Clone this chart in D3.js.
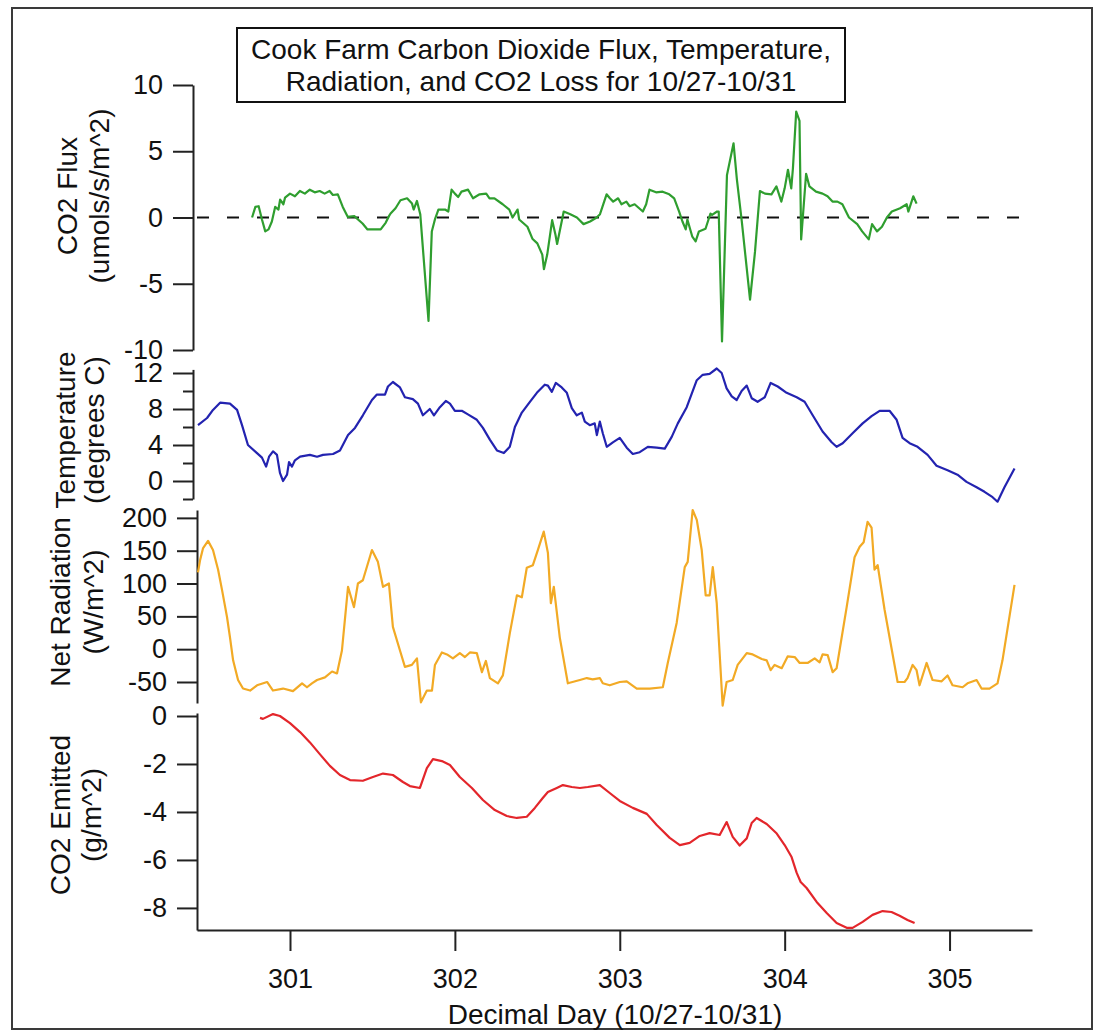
<!DOCTYPE html>
<html>
<head>
<meta charset="utf-8">
<script src="https://cdn.jsdelivr.net/npm/d3@7"></script>
<style>
  body { margin: 0; background: #fff; }
  text { font-family: "Liberation Sans", Arial, sans-serif; fill: #111; }
</style>
</head>
<body>
<div id="container"></div>
<script>
// ---- data (day, value) ----
const fluxData = [
  [300.77, 0.0], [300.79, 0.8], [300.81, 0.85], [300.83, -0.15], [300.85, -1.05], [300.87, -0.9],
  [300.89, -0.3], [300.91, 0.8], [300.93, 0.6], [300.94, 1.35], [300.96, 1.0], [300.97, 1.5],
  [301.0, 1.8], [301.03, 1.6], [301.06, 2.0], [301.09, 1.8], [301.12, 2.1], [301.15, 1.9],
  [301.18, 2.0], [301.21, 1.8], [301.24, 2.0], [301.26, 1.7], [301.29, 1.75], [301.32, 0.8],
  [301.35, 0.05], [301.39, 0.1], [301.44, -0.45], [301.47, -0.9], [301.5, -0.9], [301.55, -0.9],
  [301.58, -0.4], [301.6, 0.1], [301.61, 0.3], [301.64, 0.7], [301.67, 1.3], [301.71, 1.45],
  [301.74, 1.05], [301.75, 0.6], [301.77, 1.25], [301.79, 0.25], [301.84, -7.8], [301.86, -1.05],
  [301.88, -0.1], [301.9, 0.6], [301.94, 0.6], [301.96, 0.45], [301.98, 2.1], [302.0, 1.8],
  [302.02, 1.55], [302.04, 1.95], [302.08, 2.1], [302.11, 1.45], [302.15, 1.75], [302.19, 1.8],
  [302.21, 1.45], [302.24, 1.45], [302.29, 1.0], [302.33, 0.6], [302.35, 0.0], [302.38, 0.6],
  [302.39, -0.15], [302.44, -0.7], [302.47, -1.6], [302.5, -1.95], [302.53, -2.8], [302.54, -3.9],
  [302.56, -2.8], [302.59, -0.2], [302.61, -1.3], [302.62, -2.0], [302.66, 0.45], [302.7, 0.25],
  [302.74, 0.0], [302.78, -0.5], [302.82, -0.3], [302.86, 0.0], [302.88, 0.25], [302.92, 1.75],
  [302.94, 1.45], [302.96, 1.2], [302.99, 1.45], [303.01, 1.0], [303.04, 1.2], [303.06, 0.85],
  [303.09, 1.0], [303.14, 0.45], [303.16, 1.0], [303.18, 2.1], [303.22, 1.9], [303.26, 1.95],
  [303.3, 1.75], [303.33, 1.45], [303.36, 0.45], [303.38, -0.3], [303.4, -0.9], [303.41, -0.15],
  [303.44, -1.45], [303.46, -1.8], [303.48, -1.05], [303.52, -0.85], [303.55, 0.3], [303.56, 0.2],
  [303.59, 0.45], [303.6, 0.45], [303.62, -9.35], [303.65, 3.2], [303.69, 5.6], [303.71, 2.9],
  [303.74, -0.3], [303.79, -6.2], [303.82, -2.6], [303.85, 2.0], [303.88, 1.8], [303.92, 1.75],
  [303.95, 2.35], [303.98, 1.2], [304.0, 2.2], [304.02, 3.6], [304.04, 2.2], [304.05, 3.7],
  [304.07, 8.0], [304.09, 7.3], [304.1, -1.65], [304.13, 3.3], [304.15, 2.35], [304.19, 1.95],
  [304.23, 1.8], [304.26, 1.6], [304.29, 1.2], [304.32, 1.2], [304.35, 1.0], [304.39, 0.0],
  [304.44, -0.5], [304.47, -1.05], [304.51, -1.65], [304.53, -0.5], [304.56, -1.05], [304.59, -0.7],
  [304.62, 0.0], [304.65, 0.45], [304.7, 0.7], [304.74, 1.0], [304.75, 0.45], [304.78, 1.6],
  [304.8, 1.05]
];

const tempData = [
  [300.442, 6.2], [300.497, 7.0], [300.533, 7.9], [300.576, 8.7], [300.636, 8.6], [300.679, 7.9],
  [300.709, 6.2], [300.745, 4.0], [300.8, 3.1], [300.83, 2.6], [300.855, 1.6], [300.873, 2.7],
  [300.897, 3.3], [300.921, 2.9], [300.939, 0.9], [300.958, 0.0], [300.982, 0.7], [300.994, 2.1],
  [301.012, 1.6], [301.03, 2.3], [301.061, 2.7], [301.121, 2.9], [301.164, 2.7], [301.2, 2.9],
  [301.261, 3.0], [301.303, 3.4], [301.352, 5.1], [301.394, 5.9], [301.442, 7.3], [301.497, 9.0],
  [301.527, 9.6], [301.576, 9.6], [301.594, 10.5], [301.624, 11.0], [301.667, 10.4], [301.697, 9.3],
  [301.745, 9.1], [301.776, 8.6], [301.806, 7.3], [301.848, 8.0], [301.873, 7.3], [301.909, 8.2],
  [301.945, 8.9], [301.97, 8.6], [302.0, 7.8], [302.042, 7.8], [302.079, 7.4], [302.133, 6.8],
  [302.17, 5.9], [302.212, 4.6], [302.255, 3.4], [302.297, 3.1], [302.333, 3.8], [302.364, 6.0],
  [302.406, 7.6], [302.455, 8.8], [302.497, 9.8], [302.545, 10.7], [302.564, 10.6], [302.588, 9.9],
  [302.612, 10.9], [302.648, 10.4], [302.679, 9.8], [302.709, 8.1], [302.739, 7.3], [302.77, 7.6],
  [302.788, 6.6], [302.818, 6.2], [302.848, 6.4], [302.861, 5.1], [302.879, 6.6], [302.897, 5.3],
  [302.921, 3.8], [302.958, 4.3], [303.0, 4.8], [303.042, 3.7], [303.079, 3.0], [303.121, 3.2],
  [303.17, 3.8], [303.224, 3.7], [303.273, 3.6], [303.315, 4.9], [303.352, 6.4], [303.406, 8.2],
  [303.467, 11.2], [303.503, 11.8], [303.545, 11.9], [303.588, 12.5], [303.618, 12.0], [303.648, 10.3],
  [303.679, 9.4], [303.709, 9.0], [303.739, 10.0], [303.77, 10.6], [303.8, 9.2], [303.836, 8.8],
  [303.879, 9.3], [303.915, 10.9], [303.958, 10.5], [304.012, 9.8], [304.073, 9.3], [304.121, 8.8],
  [304.17, 7.3], [304.23, 5.5], [304.285, 4.3], [304.315, 3.8], [304.352, 4.2], [304.412, 5.3],
  [304.473, 6.4], [304.527, 7.2], [304.576, 7.8], [304.636, 7.8], [304.679, 6.8], [304.715, 4.8],
  [304.758, 4.2], [304.806, 3.8], [304.867, 2.9], [304.921, 1.7], [304.988, 1.2], [305.048, 0.7],
  [305.103, -0.1], [305.164, -0.7], [305.212, -1.2], [305.261, -1.8], [305.291, -2.3], [305.333, -0.7],
  [305.394, 1.4]
];

const radData = [
  [300.442, 117], [300.455, 136], [300.473, 154], [300.503, 165], [300.533, 151], [300.564, 121],
  [300.588, 90], [300.618, 49], [300.636, 18], [300.655, -17], [300.685, -47], [300.715, -60],
  [300.758, -63], [300.8, -55], [300.861, -50], [300.897, -63], [300.958, -60], [301.018, -64],
  [301.073, -52], [301.103, -58], [301.133, -52], [301.164, -47], [301.212, -43], [301.255, -34],
  [301.285, -37], [301.315, -2], [301.352, 95], [301.388, 64], [301.412, 100], [301.442, 105],
  [301.497, 151], [301.533, 133], [301.564, 95], [301.6, 100], [301.624, 34], [301.667, -2],
  [301.697, -27], [301.739, -24], [301.77, -14], [301.794, -81], [301.83, -63], [301.861, -63],
  [301.879, -24], [301.921, -5], [301.952, -8], [301.988, -14], [302.03, -6], [302.061, -12],
  [302.091, -5], [302.133, -6], [302.164, -35], [302.188, -18], [302.212, -44], [302.261, -52],
  [302.291, -40], [302.333, 24], [302.376, 82], [302.406, 79], [302.436, 124], [302.473, 128],
  [302.503, 151], [302.539, 179], [302.564, 147], [302.582, 70], [302.6, 95], [302.636, 18],
  [302.685, -52], [302.758, -47], [302.8, -44], [302.836, -46], [302.879, -44], [302.897, -52],
  [302.939, -55], [303.0, -50], [303.042, -49], [303.103, -60], [303.182, -60], [303.261, -58],
  [303.291, -21], [303.345, 40], [303.394, 125], [303.412, 133], [303.442, 212], [303.467, 197],
  [303.497, 151], [303.521, 82], [303.545, 82], [303.564, 125], [303.588, 70], [303.624, -86],
  [303.648, -50], [303.685, -47], [303.715, -24], [303.77, -6], [303.806, -8], [303.861, -15],
  [303.891, -17], [303.915, -32], [303.939, -24], [303.982, -29], [304.018, -11], [304.061, -12],
  [304.091, -21], [304.139, -21], [304.182, -14], [304.212, -20], [304.23, -8], [304.261, -9],
  [304.291, -35], [304.315, -29], [304.376, 64], [304.424, 140], [304.455, 156], [304.479, 163],
  [304.503, 194], [304.527, 185], [304.545, 121], [304.564, 128], [304.606, 60], [304.685, -50],
  [304.727, -50], [304.745, -44], [304.776, -24], [304.8, -32], [304.818, -55], [304.861, -21],
  [304.897, -47], [304.952, -49], [304.988, -40], [305.018, -55], [305.079, -58], [305.109, -52],
  [305.164, -47], [305.194, -60], [305.242, -60], [305.291, -52], [305.321, -17], [305.394, 98]
];

const co2Data = [
  [300.818, -0.08], [300.836, -0.12], [300.897, 0.08], [300.939, 0.0], [301.0, -0.3], [301.061, -0.67],
  [301.121, -1.1], [301.182, -1.6], [301.242, -2.08], [301.303, -2.46], [301.364, -2.67], [301.442, -2.7],
  [301.503, -2.54], [301.564, -2.4], [301.624, -2.46], [301.685, -2.75], [301.727, -2.92], [301.788, -3.0],
  [301.83, -2.17], [301.867, -1.8], [301.921, -1.88], [301.97, -2.04], [302.03, -2.54], [302.103, -3.0],
  [302.17, -3.5], [302.242, -3.92], [302.315, -4.17], [302.376, -4.25], [302.436, -4.2], [302.485, -3.83],
  [302.533, -3.42], [302.564, -3.17], [302.618, -3.0], [302.655, -2.88], [302.709, -2.96], [302.758, -3.0],
  [302.806, -2.96], [302.879, -2.88], [302.939, -3.21], [303.0, -3.54], [303.079, -3.83], [303.164, -4.08],
  [303.224, -4.54], [303.303, -5.08], [303.364, -5.38], [303.424, -5.29], [303.485, -5.0], [303.545, -4.88],
  [303.606, -4.96], [303.648, -4.42], [303.685, -5.04], [303.727, -5.4], [303.77, -5.1], [303.8, -4.46],
  [303.83, -4.25], [303.891, -4.5], [303.952, -4.9], [304.0, -5.38], [304.042, -5.88], [304.073, -6.54],
  [304.097, -6.92], [304.133, -7.17], [304.194, -7.75], [304.255, -8.21], [304.315, -8.63], [304.376, -8.83],
  [304.412, -8.83], [304.473, -8.58], [304.533, -8.29], [304.594, -8.13], [304.648, -8.17], [304.697, -8.33],
  [304.745, -8.5], [304.788, -8.63]
];

const dayTicks = [301, 302, 303, 304, 305];
const fluxTicks = [10, 5, 0, -5, -10];
const tempTicks = [12, 8, 4, 0];
const tempMinorTicks = [10, 6, 2, -2];
const radTicks = [200, 150, 100, 50, 0, -50];
const co2Ticks = [0, -2, -4, -6, -8];

function draw() {
  const width = 1093;
  const height = 1031;
  const font = 27;
  // plain hyphen for negatives, like the original
  const fmt = d => String(d);

  const svg = d3.select('#container')
    .append('svg')
    .attr('width', width)
    .attr('height', height)
    .attr('viewBox', `0 0 ${width} ${height}`);

  // outer frame
  svg.append('rect')
    .attr('x', 12).attr('y', 8)
    .attr('width', 1080).attr('height', 1021)
    .attr('fill', 'none')
    .attr('stroke', '#3a3a3a')
    .attr('stroke-width', 2);

  const x = d3.scaleLinear().domain([300.436, 305.5]).range([197, 1032]);

  const panels = [
    { data: fluxData, ticks: fluxTicks, domain: [-10, 10], range: [350, 85], axisX: 193,
      color: '#2f9e2f', titles: ['CO2 Flux', '(umols/s/m^2)'], tx: [77, 109], ty: 196 },
    { data: tempData, ticks: tempTicks, minor: tempMinorTicks, domain: [-2, 12.4], range: [499, 369.4], axisX: 193,
      color: '#2323b0', titles: ['Temperature', '(degrees C)'], tx: [75, 104], ty: 430 },
    { data: radData, ticks: radTicks, domain: [-82, 212], range: [703, 510], axisX: 197,
      color: '#f2aa25', titles: ['Net Radiation', '(W/m^2)'], tx: [70, 103], ty: 602 },
    { data: co2Data, ticks: co2Ticks, domain: [-8.92, 0.125], range: [930, 713], axisX: 197,
      color: '#e3262b', titles: ['CO2 Emitted', '(g/m^2)'], tx: [70, 101], ty: 815 }
  ];

  panels.forEach((p, i) => {
    const y = d3.scaleLinear().domain(p.domain).range(p.range);

    const ax = svg.append('g')
      .attr('transform', `translate(${p.axisX},0)`)
      .call(d3.axisLeft(y).tickValues(p.ticks).tickSize(20).tickSizeOuter(0).tickPadding(10)
        .tickFormat(fmt));
    ax.select('.domain').attr('stroke', '#222').attr('stroke-width', 2);
    ax.selectAll('.tick line').attr('stroke', '#222').attr('stroke-width', 2);
    ax.selectAll('.tick text')
      .style('font-size', font + 'px')
      .style('font-family', '"Liberation Sans", Arial, sans-serif')
      .attr('fill', '#111');

    if (p.minor) {
      const mx = svg.append('g')
        .attr('transform', `translate(${p.axisX},0)`)
        .call(d3.axisLeft(y).tickValues(p.minor).tickSize(10).tickSizeOuter(0).tickFormat(''));
      mx.select('.domain').remove();
      mx.selectAll('.tick line').attr('stroke', '#222').attr('stroke-width', 2);
    }

    // axis titles
    p.titles.forEach((t, j) => {
      svg.append('text')
        .attr('transform', `translate(${p.tx[j]},${p.ty}) rotate(-90)`)
        .attr('text-anchor', 'middle')
        .style('font-size', '28px')
        .text(t);
    });

    if (i === 0) {
      svg.append('line')
        .attr('x1', 197).attr('x2', 1028)
        .attr('y1', y(0)).attr('y2', y(0))
        .attr('stroke', '#111')
        .attr('stroke-width', 2)
        .attr('stroke-dasharray', '12,18');
    }

    const line = d3.line()
      .x(d => x(d[0]))
      .y(d => y(d[1]));

    svg.append('path')
      .datum(p.data)
      .attr('d', line)
      .attr('fill', 'none')
      .attr('stroke', p.color)
      .attr('stroke-width', 2.2)
      .attr('stroke-linejoin', 'round');
  });

  // bottom axis
  const xa = svg.append('g')
    .attr('transform', 'translate(0,930)')
    .call(d3.axisBottom(x).tickValues(dayTicks).tickSize(21).tickSizeOuter(0).tickPadding(18)
      .tickFormat(fmt));
  xa.select('.domain').attr('stroke', '#222').attr('stroke-width', 2);
  xa.selectAll('.tick line').attr('stroke', '#222').attr('stroke-width', 2);
  xa.selectAll('.tick text')
    .style('font-size', font + 'px')
    .style('font-family', '"Liberation Sans", Arial, sans-serif')
    .attr('fill', '#111');

  svg.append('text')
    .attr('x', 615).attr('y', 1024)
    .attr('text-anchor', 'middle')
    .style('font-size', '28px')
    .text('Decimal Day (10/27-10/31)');

  // title box
  svg.append('rect')
    .attr('x', 237).attr('y', 28)
    .attr('width', 608).attr('height', 74)
    .attr('fill', '#fff')
    .attr('stroke', '#111')
    .attr('stroke-width', 2);

  const titleLines = ['Cook Farm Carbon Dioxide Flux, Temperature,', 'Radiation, and CO2 Loss for 10/27-10/31'];
  titleLines.forEach((t, j) => {
    svg.append('text')
      .attr('x', 541).attr('y', 59 + j * 32)
      .attr('text-anchor', 'middle')
      .style('font-size', '28px')
      .text(t);
  });
}

draw();
</script>
</body>
</html>
